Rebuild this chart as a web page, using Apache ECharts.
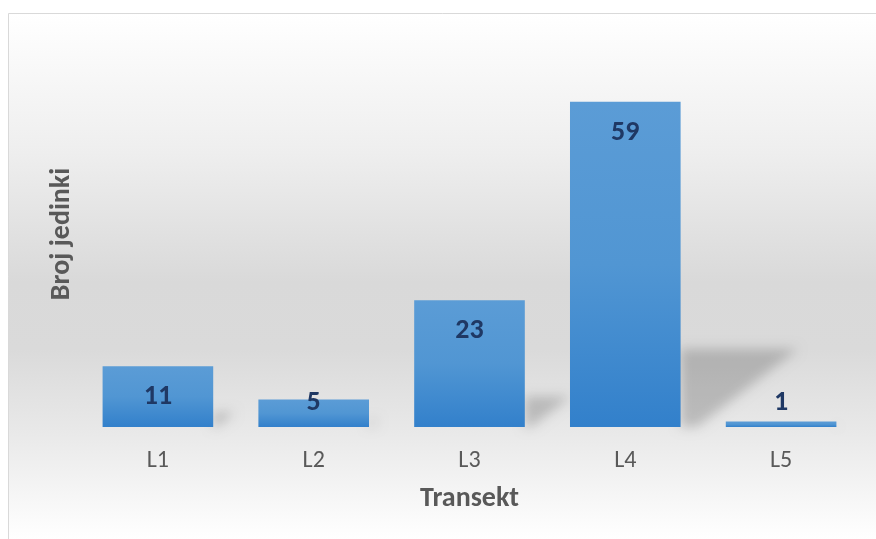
<!DOCTYPE html>
<html>
<head>
<meta charset="utf-8">
<script src="https://cdn.jsdelivr.net/npm/echarts@6/dist/echarts.min.js"></script>
<style>
  html, body { margin: 0; padding: 0; background: #fff; }
  #chart { width: 876px; height: 539px; }
</style>
</head>
<body>
<div id="chart"></div>
<script>
var categories = ['L1', 'L2', 'L3', 'L4', 'L5'];
var values = [11, 5, 23, 59, 1];
var yTitle = 'Broj jedinki';
var xTitle = 'Transekt';

var font = 'Calibri, Carlito, "Open Sans", sans-serif';

var myChart = echarts.init(document.getElementById('chart'));

// labels: short bars get the label pushed up near the base
var barData = values.map(function (v) {
    var item = { value: v };
    if (v < 10) {
        item.label = { position: 'insideBottom', distance: 10 };
    }
    return item;
});

var OFF = 3000; // draw shadow shape off-canvas, only its blurred shadow lands on the chart

var option = {
    animation: false,
    backgroundColor: '#ffffff',
    graphic: [{
        type: 'rect',
        z: -10,
        silent: true,
        shape: { x: 8.5, y: 13.5, width: 900, height: 560 },
        style: {
            stroke: '#d9d9d9',
            lineWidth: 1,
            fill: new echarts.graphic.LinearGradient(0, 0, 0, 1, [
                { offset: 0, color: '#ffffff' },
                { offset: 0.25, color: '#eeeeee' },
                { offset: 0.48, color: '#d9d9d9' },
                { offset: 0.6, color: '#dadada' },
                { offset: 0.75, color: '#e9e9e9' },
                { offset: 0.94, color: '#ffffff' },
                { offset: 1, color: '#ffffff' }
            ])
        }
    }],
    grid: { left: 80, right: 17, top: 41, bottom: 112 },
    xAxis: {
        type: 'category',
        data: categories,
        name: xTitle,
        nameLocation: 'middle',
        nameGap: 58,
        nameTextStyle: { fontFamily: font, fontSize: 28, fontWeight: 'bold', color: '#595959' },
        axisLine: { show: false },
        axisTick: { show: false },
        axisLabel: { fontFamily: font, fontSize: 24, color: '#595959', margin: 22 }
    },
    yAxis: {
        type: 'value',
        min: 0,
        max: 70,
        name: yTitle,
        nameLocation: 'middle',
        nameGap: 4,
        nameTextStyle: { fontFamily: font, fontSize: 28, fontWeight: 'bold', color: '#595959' },
        axisLine: { show: false },
        axisTick: { show: false },
        axisLabel: { show: false },
        splitLine: { show: false }
    },
    series: [
        {
            // cast shadows behind the bars
            type: 'custom',
            z: 1,
            silent: true,
            data: values.map(function (v, i) { return [i, v]; }),
            renderItem: function (params, api) {
                var top = api.coord([api.value(0), api.value(1)]);
                var base = api.coord([api.value(0), 0]);
                var band = api.size([1, 0])[0];
                var xR = base[0] + band * 0.71 / 2 - OFF;
                var h = base[1] - top[1];
                var pts = [
                    [xR, base[1]],
                    [xR, base[1] - 0.24 * h],
                    [xR + 0.36 * h, base[1] - 0.24 * h],
                    [xR + 0.05 * h, base[1]]
                ];
                return {
                    type: 'polygon',
                    shape: { points: pts },
                    style: {
                        fill: '#000',
                        shadowBlur: 12,
                        shadowOffsetX: OFF,
                        shadowColor: 'rgba(0,0,0,0.19)'
                    }
                };
            }
        },
        {
            type: 'bar',
            z: 2,
            data: barData,
            barCategoryGap: '29%',
            itemStyle: {
                color: new echarts.graphic.LinearGradient(0, 0, 0, 1, [
                    { offset: 0, color: '#5b9cd6' },
                    { offset: 0.5, color: '#5196d3' },
                    { offset: 1, color: '#3280cb' }
                ])
            },
            label: {
                show: true,
                position: 'insideTop',
                distance: 17,
                fontFamily: font,
                fontSize: 28,
                fontWeight: 'bold',
                color: '#1f3864'
            }
        }
    ]
};

myChart.setOption(option);
</script>
</body>
</html>
